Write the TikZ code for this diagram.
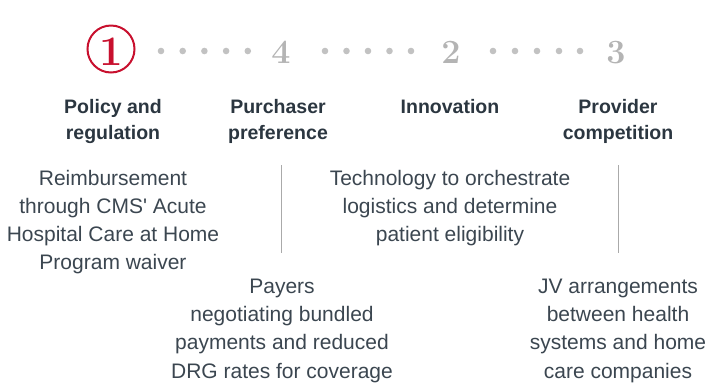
\documentclass[tikz,border=0pt]{standalone}
\usepackage{fontspec}
\newfontfamily\bodyfont{Liberation Sans}
\definecolor{txt}{HTML}{3B4650}
\definecolor{headc}{HTML}{2B3640}
\definecolor{numgray}{HTML}{B4B4B4}
\definecolor{dotgray}{HTML}{C2C2C2}
\definecolor{redc}{HTML}{C8102E}
\definecolor{linegray}{HTML}{AAAAAA}
\begin{document}
\begin{tikzpicture}[x=1pt,y=-1pt,
  body/.style={font=\bodyfont\fontsize{21}{28.3}\selectfont, text=txt, align=center, inner sep=0pt, anchor=base},
  head/.style={font=\bodyfont\bfseries\fontsize{19.5}{26.5}\selectfont, text=headc, align=center, inner sep=0pt, anchor=base},
  num/.style={font=\bfseries\fontsize{34}{34}\selectfont, text=numgray, inner sep=0pt, anchor=base},
  dotmark/.style={circle, fill=dotgray, inner sep=0pt, minimum size=6.6pt},
  sep/.style={draw=linegray, line width=1.2pt}]
\useasboundingbox (0,0) rectangle (711,384);
% step numbers
\node[circle, draw=redc, line width=2pt, minimum size=47pt, inner sep=0pt] (c1) at (111,49) {};
\node[num, text=redc, font=\bfseries\fontsize{42}{42}\selectfont] (n1) at (111,65) {1};
\node[num] (n4) at (281,63) {4};
\node[num] (n2) at (451,63) {2};
\node[num] (n3) at (616,63) {3};
% dots
\foreach \i/\x in {a1/161,a2/182.7,a3/204.4,a4/226.1,a5/247.8,
                   b1/325,b2/346.5,b3/368,b4/389.5,b5/411,
                   c1/493,c2/515,c3/537,c4/559,c5/580}
  \node[dotmark] (d\i) at (\x,51) {};
% headings (anchor = baseline of last line)
\node[head] (h1) at (113,139.5) {Policy and\\regulation};
\node[head] (h4) at (278,139.5) {Purchaser\\preference};
\node[head] (h2) at (450,113) {Innovation};
\node[head] (h3) at (618,139.5) {Provider\\competition};
% bodies (anchor = baseline of last line)
\node[body] (b1) at (113,269.9) {Reimbursement\\through CMS' Acute\\Hospital Care at Home\\Program waiver};
\node[body] (b4) at (282,378.2) {Payers\\negotiating bundled\\payments and reduced\\DRG rates for coverage};
\node[body] (b2) at (450,241.6) {Technology to orchestrate\\logistics and determine\\patient eligibility};
\node[body] (b3) at (618,378.2) {JV arrangements\\between health\\systems and home\\care companies};
% separators
\coordinate (s1t) at (281.7,165);
\coordinate (s1b) at (281.7,253);
\coordinate (s2t) at (618.3,165);
\coordinate (s2b) at (618.3,253);
\draw[sep] (s1t) -- (s1b);
\draw[sep] (s2t) -- (s2b);
\end{tikzpicture}
\end{document}
